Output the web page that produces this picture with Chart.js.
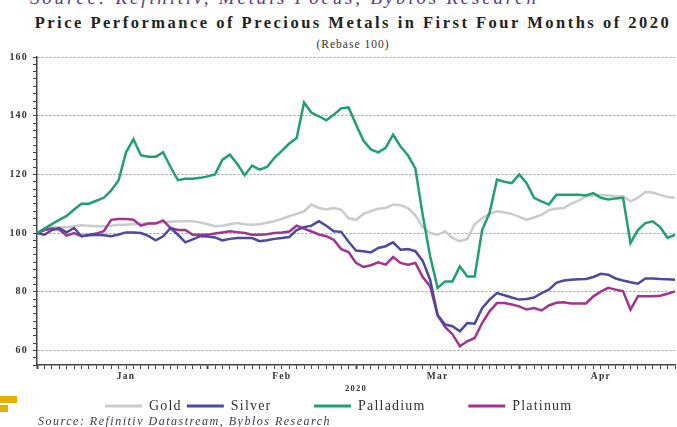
<!DOCTYPE html>
<html>
<head>
<meta charset="utf-8">
<script src="https://cdn.jsdelivr.net/npm/chart.js@4.4.0/dist/chart.umd.min.js"></script>
<style>
  body { margin: 0; background: #fff; }
  #wrap { position: relative; width: 677px; height: 427px; overflow: hidden; background: #fff; }
  #cut { position: absolute; left: 30px; top: -13px; font: italic 19px "Liberation Serif", serif; color: #5b3d8c; white-space: nowrap; letter-spacing: 2.8px; }
  #title { position: absolute; left: 0; width: 706px; top: 13px; text-align: center; font: bold 16.5px "Liberation Serif", serif; color: #222; letter-spacing: 2.5px; white-space: nowrap; }
  #sub { position: absolute; left: 0; width: 706px; top: 38px; text-align: center; font: 11.5px "Liberation Serif", serif; color: #333; letter-spacing: 1px; }
  #source { position: absolute; left: 38px; top: 414px; font: italic 12px "Liberation Serif", serif; color: #3a3a55; white-space: nowrap; letter-spacing: 1.5px; }
  .sq { position: absolute; left: 0; background: #e6b000; }
  canvas { position: absolute; left: 0; top: 0; }
</style>
</head>
<body>
<div id="wrap">
  <div id="cut">Source: Refinitiv, Metals Focus, Byblos Research</div>
  <div id="title">Price Performance of Precious Metals in First Four Months of 2020</div>
  <div id="sub">(Rebase 100)</div>
  <canvas id="metalsChart" width="677" height="427"></canvas>
  <div class="sq" style="top:396px;width:17px;height:7px"></div>
  <div class="sq" style="top:405px;width:8px;height:7px"></div>
  <div id="source">Source: Refinitiv Datastream, Byblos Research</div>
</div>
<script>
// trading days, Jan-Apr 2020
const janDays = [1, 2, 3, 6, 7, 8, 9, 10, 13, 14, 15, 16, 17, 20, 21, 22, 23, 24, 27, 28, 29, 30, 31];
const febDays = [3, 4, 5, 6, 7, 10, 11, 12, 13, 14, 17, 18, 19, 20, 21, 24, 25, 26, 27, 28];
const marDays = [2, 3, 4, 5, 6, 9, 10, 11, 12, 13, 16, 17, 18, 19, 20, 23, 24, 25, 26, 27, 30, 31];
const aprDays = [1, 2, 3, 6, 7, 8, 9, 10, 13, 14, 15, 16, 17, 20, 21, 22, 23, 24, 27, 28, 29, 30];
const months = ['Jan', 'Feb', 'Mar', 'Apr'];

const gold = [
    100, 101, 102, 102, 102, 102.3, 102.6, 102.5, 102.3, 102.3,
    102.5, 102.8, 102.8, 103, 103.2, 103.4, 103.4, 103.6, 103.8, 104,
    104, 104, 103.6, 103, 102.3, 102.5, 103, 103.4, 103, 102.8,
    103, 103.5, 104, 104.8, 105.7, 106.5, 107.4, 109.7, 108.5, 108,
    108.5, 108, 105, 104.5, 106.5, 107.4, 108.3, 108.5, 109.7, 109.5,
    108.5, 106, 102, 100, 99.4, 100.6, 98.3, 97.2, 98, 103,
    105, 106.5, 107.4, 107, 106.5, 105.5, 104.5, 105.3, 106.2, 107.8,
    108.3, 108.5, 110, 111, 112.5, 112.8, 113, 112.8, 112.5, 112.5,
    110.8, 112, 114, 113.8, 113, 112.3, 112
];
const silver = [
    100, 99.4, 101, 101.7, 100.2, 101.7, 98.9, 99.2, 99.4, 99.2,
    98.9, 99.5, 100.2, 100.2, 100, 99, 97.5, 98.9, 101.7, 99.4,
    96.8, 97.8, 98.9, 98.8, 98.5, 97.5, 98, 98.3, 98.3, 98.3,
    97.2, 97.5, 98, 98.3, 98.6, 101, 102, 102.5, 104, 102.5,
    100.6, 100.4, 97, 94, 93.8, 93.4, 94.9, 95.5, 96.8, 94.3,
    94.5, 93.8, 90.5, 84, 72, 68.8, 68.2, 66.5, 69.3, 69.1,
    74.4, 77.3, 79.5, 78.8, 78, 77.3, 77.5, 78, 79.5, 80.7,
    83, 83.8, 84.1, 84.2, 84.3, 85, 86.1, 85.8, 84.5, 83.8,
    83.2, 82.7, 84.5, 84.5, 84.3, 84.2, 84.1
];
const palladium = [
    100, 101.5, 103, 104.5, 105.8, 108, 110, 110, 111, 112,
    114.5, 118, 127.5, 132, 126.5, 126, 126, 127.5, 122.5, 118,
    118.5, 118.5, 118.8, 119.3, 120, 125, 126.7, 123.5, 119.7, 123,
    121.6, 122.5, 125.6, 128, 130.5, 132.4, 144.5, 141, 139.8, 138.4,
    140.3, 142.5, 142.8, 137, 131.5, 128.5, 127.5, 129, 133.5, 129.5,
    126.5, 122, 106, 92, 81.3, 83.5, 83.5, 88.6, 85.2, 85.2,
    101, 106.8, 118.2, 117.5, 117, 120, 117, 112, 110.8, 109.7,
    113, 113, 113, 113, 112.8, 113.6, 112, 111.4, 111.8, 112,
    96.6, 101, 103.4, 104, 102, 98.3, 99.4
];
const platinum = [
    100, 101, 101.5, 101.2, 99.1, 100, 98.9, 99.4, 99.8, 100.6,
    104.5, 104.8, 104.8, 104.5, 102.5, 103.2, 103.2, 104.3, 101.7, 101,
    101, 99.4, 99.4, 99.4, 99.8, 100.2, 100.6, 100.3, 100, 99.4,
    99.4, 99.6, 100, 100.2, 100.5, 102.5, 101.5, 100.5, 99.5, 98.9,
    97.7, 94.5, 93.5, 89.8, 88.4, 89, 90, 89.2, 91.8, 89.8,
    89.2, 89.8, 85, 81.8, 72, 68, 65.5, 61.4, 63.1, 64.2,
    69.3, 73.3, 76.1, 76.1, 75.6, 75, 73.9, 74.4, 73.6, 75.3,
    76.2, 76.4, 76, 76, 76, 78.4, 80, 81.3, 80.7, 80.1,
    73.9, 78.4, 78.4, 78.4, 78.6, 79.3, 80.1
];

const yMajor = [60, 80, 100, 120, 140, 160];

// build labels and month markers
const monthDays = [janDays, febDays, marDays, aprDays];
const labels = [];
const monthStart = {};
const monthMid = {};
monthDays.forEach((days, m) => {
    monthStart[labels.length] = true;
    monthMid[labels.length + Math.round(days.length / 2)] = months[m];
    days.forEach(d => labels.push(months[m] + ' ' + d));
});

const serif = '"Liberation Serif", "Times New Roman", serif';

function series(label, data, color, order) {
    return {
        label: label,
        data: data,
        borderColor: color,
        backgroundColor: color,
        borderWidth: 2.5,
        pointRadius: 0,
        tension: 0,
        order: order
    };
}

// the scanned chart has wide-set lettering; its legend also sits a bit right of centre
const tweaks = {
    id: 'tweaks',
    beforeLayout: c => { c.ctx.letterSpacing = '1.2px'; },
    afterLayout: c => {
        if (c.legend) {
            c.legend.left += 19;
            c.legend.right += 19;
        }
    },
    beforeDraw: c => { c.ctx.letterSpacing = '1.2px'; }
};

new Chart(document.getElementById('metalsChart'), {
    type: 'line',
    data: {
        labels: labels,
        datasets: [
            series('Gold', gold, '#cbcbcb', 4),
            series('Silver', silver, '#4b4a9e', 2),
            series('Palladium', palladium, '#20a070', 1),
            series('Platinum', platinum, '#a3338f', 3)
        ]
    },
    plugins: [tweaks],
    options: {
        responsive: false,
        animation: false,
        devicePixelRatio: 1,
        layout: { padding: { top: 57, left: 0, right: 0, bottom: 4 } },
        plugins: {
            title: { display: false },
            tooltip: { enabled: false },
            legend: {
                position: 'bottom',
                labels: {
                    sort: (a, b) => a.datasetIndex - b.datasetIndex,
                    boxWidth: 37,
                    boxHeight: 3,
                    padding: 5,
                    color: '#333',
                    font: { family: serif, size: 14 },
                    // wider gaps between items without a tall legend box
                    generateLabels: chart => Chart.defaults.plugins.legend.labels.generateLabels(chart)
                        .map((l, i, all) => Object.assign(l, {
                            lineWidth: 0,
                            text: i < all.length - 1 ? l.text + '        ' : l.text
                        }))
                }
            }
        },
        scales: {
            x: {
                ticks: {
                    autoSkip: false,
                    maxRotation: 0,
                    padding: 2,
                    color: '#333',
                    font: { family: serif, size: 9.5, weight: 'bold' },
                    callback: (v, i) => monthMid[i] || ''
                },
                grid: {
                    drawOnChartArea: false,
                    tickLength: 4,
                    tickColor: '#444',
                    tickWidth: c => monthStart[c.index] ? 2 : 1
                },
                border: { color: '#444', width: 1.5 },
                title: {
                    display: true,
                    text: '2020',
                    color: '#333',
                    padding: { top: 0, bottom: 0 },
                    font: { family: serif, size: 8.5, weight: 'bold' }
                },
                afterFit: s => { s.height = 29; }
            },
            y: {
                min: 55,
                max: 160,
                ticks: {
                    stepSize: 2.5,
                    autoSkip: false,
                    padding: 5,
                    color: '#333',
                    font: { family: serif, size: 10, weight: 'bold' },
                    callback: v => yMajor.includes(v) ? v : ''
                },
                grid: {
                    color: c => (c.tick && yMajor.includes(c.tick.value)) ? '#9a9a9a' : 'rgba(0,0,0,0)',
                    tickColor: '#444',
                    tickLength: 4,
                    lineWidth: 1
                },
                border: { color: '#444', width: 1.5, dash: [2, 2] },
                afterFit: s => { s.width = 37; }
            }
        }
    }
});
</script>
</body>
</html>
